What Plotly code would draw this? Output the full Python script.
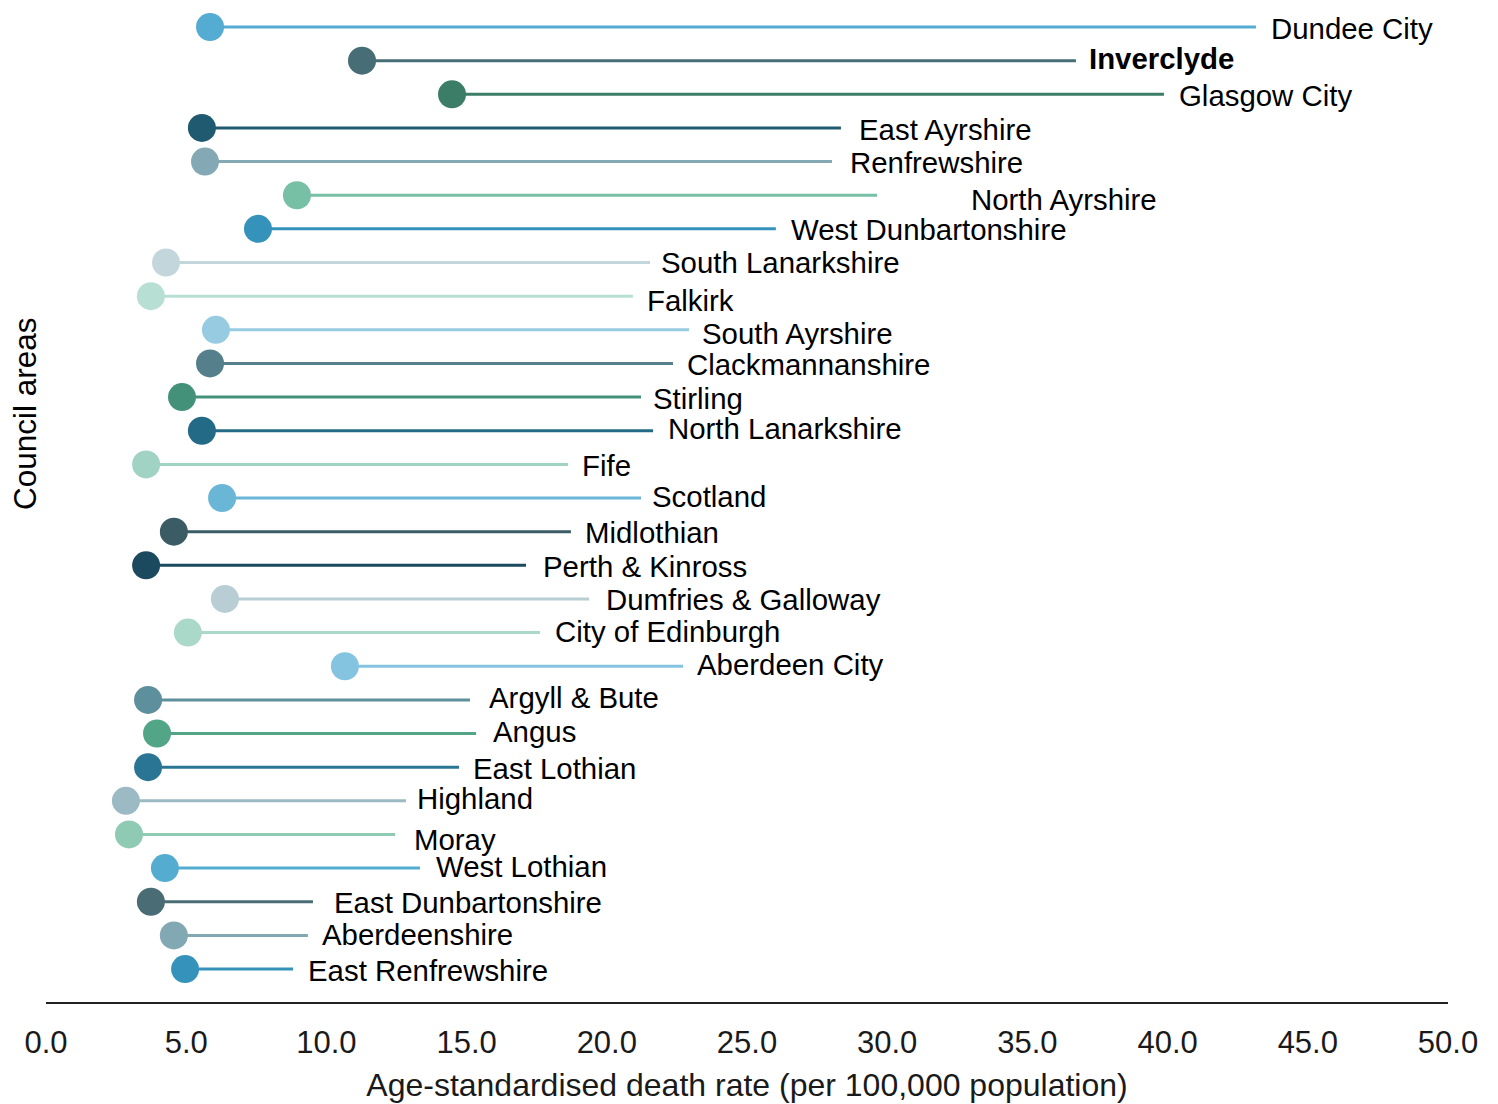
import plotly.graph_objects as go

# ---- data (top to bottom) ----
areas = ["Dundee City", "Inverclyde", "Glasgow City", "East Ayrshire", "Renfrewshire",
         "North Ayrshire", "West Dunbartonshire", "South Lanarkshire", "Falkirk",
         "South Ayrshire", "Clackmannanshire", "Stirling", "North Lanarkshire", "Fife",
         "Scotland", "Midlothian", "Perth & Kinross", "Dumfries & Galloway",
         "City of Edinburgh", "Aberdeen City", "Argyll & Bute", "Angus", "East Lothian",
         "Highland", "Moray", "West Lothian", "East Dunbartonshire", "Aberdeenshire",
         "East Renfrewshire"]
start_rate = [5.85, 11.27, 14.48, 5.56, 5.67, 8.95, 7.56, 4.28, 3.74, 6.06, 5.85, 4.85,
              5.56, 3.57, 6.28, 4.56, 3.57, 6.38, 5.06, 10.66, 3.64, 3.96, 3.64, 2.85,
              2.96, 4.24, 3.74, 4.56, 4.96]
end_rate = [43.15, 36.73, 39.87, 28.35, 28.03, 29.64, 26.03, 21.54, 20.93, 22.93, 22.36,
            21.22, 21.65, 18.62, 21.22, 18.72, 17.12, 19.37, 17.62, 22.72, 15.12, 15.34,
            14.73, 12.84, 12.45, 13.34, 9.52, 9.34, 8.81]
x_ticks = [0, 5, 10, 15, 20, 25, 30, 35, 40, 45, 50]
x_tick_labels = ["0.0", "5.0", "10.0", "15.0", "20.0", "25.0", "30.0", "35.0", "40.0",
                 "45.0", "50.0"]
highlight = "Inverclyde"

# ---- styles ----
colors = ["#55acd2", "#476d76", "#3c7d68", "#1f5a70", "#84a9b4", "#77bfa5", "#3593bb",
          "#c3d6dc", "#b8dfd3", "#96cbe1", "#557f8b", "#44917a", "#236a87", "#a0d3c3",
          "#69b6d6", "#3b5c64", "#1b4a5e", "#b8cdd4", "#aad9c9", "#84c4e0", "#5e8f9c",
          "#52a587", "#2a7594", "#9cbac3", "#8fcab5", "#54acd1", "#4a6c75", "#82a8b3",
          "#3593bb"]
# label repel-style offsets in pixels: (horizontal gap, vertical offset down)
label_nudge = [(16, 1), (14, -2), (16, 1), (19, 2), (19, 1), (95, 4), (16, 1), (12, 0),
               (15, 4), (14, 4), (15, 1), (13, 1), (16, -2), (15, 1), (12, -2), (15, 1),
               (18, 1), (18, 1), (16, -1), (15, -2), (20, -2), (18, -2), (15, 1), (12, -2),
               (20, 5), (17, -2), (22, 1), (15, -1), (16, 1)]

FONT = "Liberation Sans, Arial, sans-serif"

fig = go.Figure()
for a, s, e, c in zip(areas, start_rate, end_rate, colors):
    fig.add_trace(go.Scatter(x=[s, e], y=[a, a], mode="lines",
                             line=dict(color=c, width=3), hoverinfo="skip",
                             showlegend=False))
fig.add_trace(go.Scatter(x=start_rate, y=areas, mode="markers",
                         marker=dict(size=28, color=colors, line=dict(width=0)),
                         showlegend=False))

for a, e, (gap, dy) in zip(areas, end_rate, label_nudge):
    txt = f"<b>{a}</b>" if a == highlight else a
    fig.add_annotation(x=e, y=a, text=txt, showarrow=False, xanchor="left",
                       yanchor="middle", xshift=gap - 3, yshift=-dy,
                       font=dict(family=FONT, size=29.4, color="#000000"))

fig.add_annotation(xref="paper", yref="paper", x=(25 - 46) / 1402, y=(1002 - 414) / 994,
                   text="Council areas", textangle=-90, showarrow=False,
                   xanchor="center", yanchor="middle",
                   font=dict(family=FONT, size=31.5, color="#000000"))

fig.update_layout(
    width=1498, height=1104,
    margin=dict(l=38, r=58, t=0, b=110),
    paper_bgcolor="white", plot_bgcolor="white",
    font=dict(family=FONT, color="#000000"),
    xaxis=dict(range=[0, 50], tickvals=x_ticks, ticktext=x_tick_labels,
               showgrid=False, zeroline=False, showline=True, linecolor="#222222",
               linewidth=1.5, ticks="", ticklabelstandoff=12,
               tickfont=dict(family=FONT, size=31, color="#1a1a1a"),
               title=dict(text="Age-standardised death rate (per 100,000 population)",
                          font=dict(family=FONT, size=32, color="#1a1a1a"), standoff=15)),
    yaxis=dict(type="category", categoryorder="array", categoryarray=areas[::-1],
               range=[-0.98, 28.565], showticklabels=False, showgrid=False,
               zeroline=False, showline=False, ticks=""),
)

fig.write_html("out.html")
